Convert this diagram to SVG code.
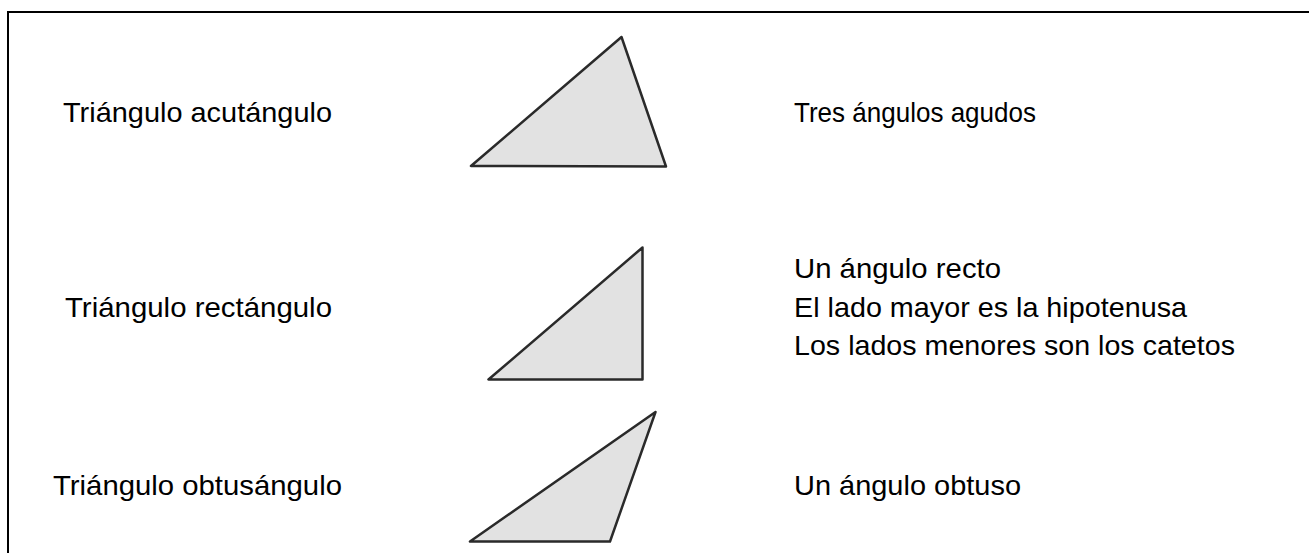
<svg xmlns="http://www.w3.org/2000/svg" width="1309" height="553" viewBox="0 0 1309 553">
<style>
.t{font-family:"Liberation Sans",Arial,sans-serif;font-size:28px;fill:#000}
.tri{fill:#e2e2e2;stroke:#2a2a2a;stroke-width:2.5;stroke-linejoin:round}
</style>
<rect x="0" y="0" width="1309" height="553" fill="#fff"/>
<rect x="8" y="12" width="1320" height="560" fill="none" stroke="#000" stroke-width="2"/>
<g id="acutangulo">
<text class="t" x="63" y="122" textLength="269" lengthAdjust="spacingAndGlyphs">Triángulo acutángulo</text>
<polygon class="tri" points="621.5,37 471,166 666,166.5"/>
<text class="t" x="794" y="122" textLength="242" lengthAdjust="spacingAndGlyphs">Tres ángulos agudos</text>
</g>
<g id="rectangulo">
<text class="t" x="65" y="317" textLength="267" lengthAdjust="spacingAndGlyphs">Triángulo rectángulo</text>
<polygon class="tri" points="642.5,247.5 488.5,379.5 642.5,379.5"/>
<text class="t" x="794" y="278" textLength="207" lengthAdjust="spacingAndGlyphs">Un ángulo recto</text>
<text class="t" x="794" y="317" textLength="393" lengthAdjust="spacingAndGlyphs">El lado mayor es la hipotenusa</text>
<text class="t" x="794" y="355" textLength="441" lengthAdjust="spacingAndGlyphs">Los lados menores son los catetos</text>
</g>
<g id="obtusangulo">
<text class="t" x="53" y="495" textLength="289" lengthAdjust="spacingAndGlyphs">Triángulo obtusángulo</text>
<polygon class="tri" points="655.5,412 470,541.5 610,541.5"/>
<text class="t" x="794" y="495" textLength="227" lengthAdjust="spacingAndGlyphs">Un ángulo obtuso</text>
</g>
<g id="connectors"></g>
</svg>
